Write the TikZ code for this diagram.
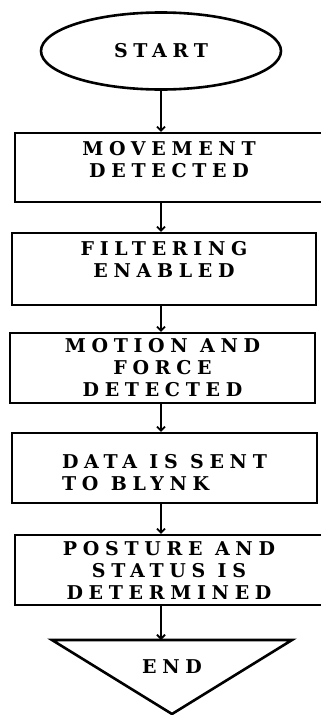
\documentclass[tikz,border=0pt]{standalone}
\usepackage{fontspec}
\newfontfamily\chartfont{DejaVu Serif}[LetterSpace=30]
\usetikzlibrary{shapes.geometric}
\usetikzlibrary{arrows.meta}

\begin{document}
\begin{tikzpicture}[x=1pt,y=-1pt]

            \tikzstyle{startNode} = [shape = ellipse, draw, line width=2.6pt, minimum width=240pt, minimum height=77pt, inner sep=0pt];
            \tikzstyle{stepNode} = [shape = rectangle, draw, line width=2.3pt, align=center, inner sep=0pt];
            \tikzstyle{flowEdge} = [line width=1.8pt, -{Straight Barb[length=4pt,width=8pt]}];
            \tikzstyle{endShape} = [line width=2.6pt, line join=miter];

            \useasboundingbox (0,0) rectangle (321,715);

            \begin{scope}[every node/.style={font=\chartfont\bfseries\fontsize{19}{22}\selectfont}]
            \node[startNode] (start) at (161,51) {START};

            \node[stepNode, minimum width=308pt, minimum height=69pt, text depth=17pt] (movement)  at (169,167.5) {MOVEMENT\\DETECTED};
            \node[stepNode, minimum width=304pt, minimum height=72pt, text depth=20pt] (filtering) at (164,269) {FILTERING\\ENABLED};
            \node[stepNode, minimum width=305pt, minimum height=70pt] (motion)    at (162.5,368) {MOTION AND\\FORCE\\DETECTED};
            \node[stepNode, minimum width=305pt, minimum height=70pt, text height=46pt, align=left] (data) at (164.5,468) {DATA IS SENT\\TO BLYNK};
            \node[stepNode, minimum width=308pt, minimum height=70pt] (posture)   at (169,570) {POSTURE AND\\STATUS IS\\DETERMINED};

            \node (end) at (172,667) {END};
            \end{scope}

            \coordinate (endleft)  at (52,640);
            \coordinate (endright) at (292,640);
            \coordinate (endtip)   at (172,714);
            \coordinate (endtop)   at (161,640);

            \draw[endShape] (endleft) -- (endright) -- (endtip) -- cycle;

            \draw[flowEdge] (start.south) -- (start.south |- movement.north);
            \draw[flowEdge] (movement.south -| start) -- (filtering.north -| start);
            \draw[flowEdge] (filtering.south -| start) -- (motion.north -| start);
            \draw[flowEdge] (motion.south -| start) -- (data.north -| start);
            \draw[flowEdge] (data.south -| start) -- (posture.north -| start);
            \draw[flowEdge] (posture.south -| start) -- (endtop);
\end{tikzpicture}
\end{document}
